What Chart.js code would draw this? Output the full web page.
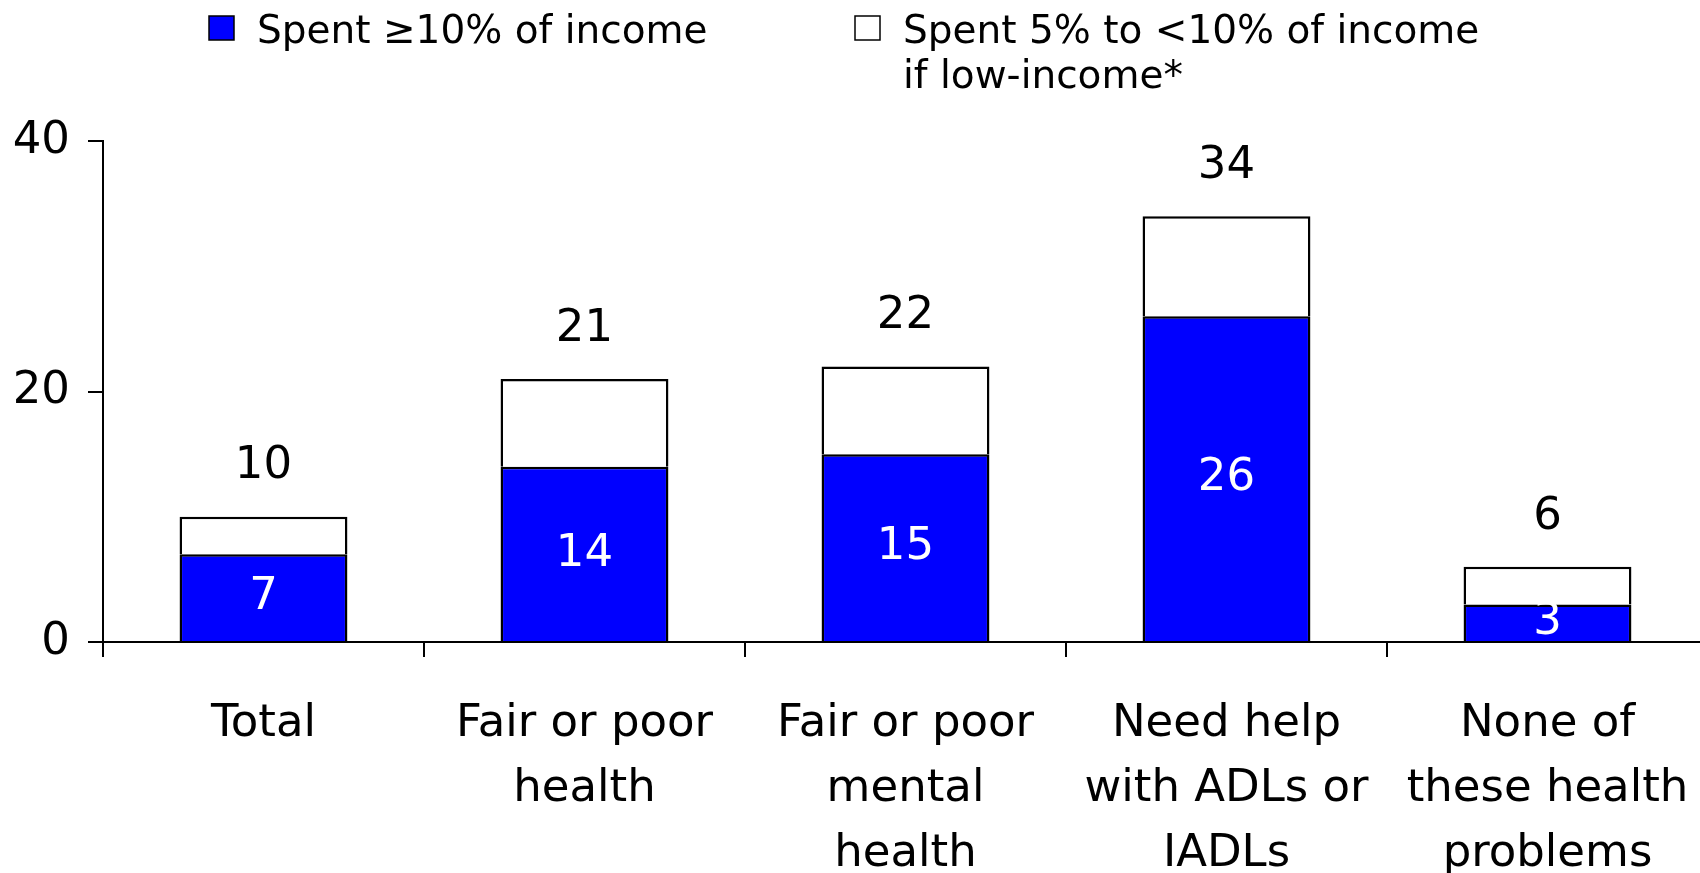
<!DOCTYPE html>
<html>
<head>
<meta charset="utf-8">
<title>Out-of-pocket spending by health status</title>
<script src="https://cdn.jsdelivr.net/npm/chart.js@4.4.1/dist/chart.umd.min.js"></script>
<style>
  html, body { margin: 0; padding: 0; background: #fff; overflow: hidden; }
  #wrap { width: 1708px; height: 873px; }
</style>
</head>
<body>
<div id="wrap"><canvas id="spendChart" width="1708" height="873"></canvas></div>
<script>
// 📦 Data
const categories = [
  ['Total'],
  ['Fair or poor', 'health'],
  ['Fair or poor', 'mental', 'health'],
  ['Need help', 'with ADLs or', 'IADLs'],
  ['None of', 'these health', 'problems']
];
const spentTenPlus = [7, 14, 15, 26, 3];      // spent >=10% of income
const spentFiveToTen = [3, 7, 7, 8, 3];       // spent 5% to <10%, low-income
const totalLabels = [10, 21, 22, 34, 6];
const yTicks = [0, 20, 40];

const legendItems = [
  { lines: ['Spent \u226510% of income'], color: '#0000ff' },
  { lines: ['Spent 5% to <10% of income', 'if low-income*'], color: '#ffffff' }
];

const FONT = '"DejaVu Sans", Verdana, sans-serif';

// 🏷️ Numbers inside the blue bars and totals above the stacks
const valueLabels = {
  id: 'valueLabels',
  afterDatasetsDraw(chart) {
    const ctx = chart.ctx;
    const blue = chart.getDatasetMeta(0).data;
    const white = chart.getDatasetMeta(1).data;
    ctx.save();
    ctx.font = `45px ${FONT}`;
    ctx.textAlign = 'center';
    ctx.textBaseline = 'middle';

    blue.forEach((bar, i) => {
      ctx.fillStyle = '#ffffff';
      ctx.fillText(String(spentTenPlus[i]), bar.x, (bar.y + bar.base) / 2);
    });

    white.forEach((bar, i) => {
      ctx.fillStyle = '#000000';
      ctx.fillText(String(totalLabels[i]), bar.x, bar.y - 50);
    });
    ctx.restore();
  }
};

// 🧾 Legend across the top (second entry wraps to two lines)
const topLegend = {
  id: 'topLegend',
  afterDraw(chart) {
    const ctx = chart.ctx;
    const spots = [{ x: 209, y: 16 }, { x: 855, y: 16 }];
    ctx.save();
    ctx.font = `39px ${FONT}`;
    ctx.textBaseline = 'middle';
    ctx.textAlign = 'left';
    legendItems.forEach((item, i) => {
      const p = spots[i];
      ctx.fillStyle = item.color;
      ctx.fillRect(p.x, p.y, 25, 24);
      ctx.lineWidth = 1.5;
      ctx.strokeStyle = '#000';
      ctx.strokeRect(p.x, p.y, 25, 24);
      ctx.fillStyle = '#000';
      item.lines.forEach((line, k) => {
        ctx.fillText(line, p.x + 48, p.y + 17 + k * 45);
      });
    });
    ctx.restore();
  }
};

const ctx = document.getElementById('spendChart').getContext('2d');

new Chart(ctx, {
  type: 'bar',
  data: {
    labels: categories,
    datasets: [
      {
        label: 'Spent \u226510% of income',
        data: spentTenPlus,
        backgroundColor: '#0000ff',
        borderColor: '#000',
        borderWidth: 2.5,
        barPercentage: 0.523,
        categoryPercentage: 1
      },
      {
        label: 'Spent 5% to <10% of income if low-income*',
        data: spentFiveToTen,
        backgroundColor: '#ffffff',
        borderColor: '#000',
        borderWidth: 2.5,
        barPercentage: 0.523,
        categoryPercentage: 1
      }
    ]
  },
  options: {
    responsive: false,
    animation: false,
    events: [],
    layout: { padding: { top: 141, left: 0, right: 0, bottom: 0 } },
    plugins: {
      legend: { display: false },
      tooltip: { enabled: false }
    },
    scales: {
      x: {
        stacked: true,
        grid: {
          offset: true,
          drawOnChartArea: false,
          color: '#000',
          lineWidth: 2,
          tickLength: 15
        },
        border: { color: '#000', width: 2 },
        ticks: {
          color: '#000',
          font: { family: FONT, size: 45, lineHeight: '65px' },
          padding: 35,
          maxRotation: 0,
          autoSkip: false
        },
        afterFit(scale) {
          scale.height = 231;
          // let the plot run all the way to the right edge
          scale.paddingLeft = 0;
          scale.paddingRight = 0;
        }
      },
      y: {
        stacked: true,
        min: 0,
        max: 40,
        afterBuildTicks(scale) { scale.ticks = yTicks.map(v => ({ value: v })); },
        grid: {
          drawOnChartArea: false,
          color: '#000',
          lineWidth: 2,
          tickLength: 15
        },
        border: { color: '#000', width: 2 },
        ticks: {
          color: '#000',
          font: { family: FONT, size: 45 },
          padding: 18
        },
        afterFit(scale) { scale.width = 103; }
      }
    }
  },
  plugins: [valueLabels, topLegend]
});
</script>
</body>
</html>
